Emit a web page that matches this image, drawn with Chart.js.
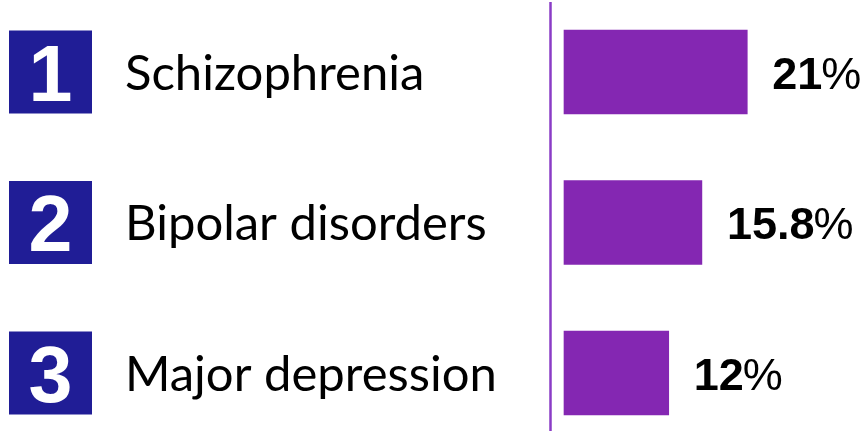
<!DOCTYPE html>
<html>
<head>
<meta charset="utf-8">
<script src="https://cdn.jsdelivr.net/npm/chart.js@4"></script>
<style>
  html, body { margin: 0; padding: 0; background: #fff; }
  #wrap { width: 860px; height: 431px; }
</style>
</head>
<body>
<div id="wrap"><canvas id="rank-chart"></canvas></div>
<script>
const ranks = ['1', '2', '3'];
const categories = ['Schizophrenia', 'Bipolar disorders', 'Major depression'];
const values = [21, 15.8, 12];

const BAR_COLOR = '#8427b2';
const BOX_COLOR = '#201d96';

// draws the rank boxes, labels, divider and value labels around the bars
const sidePlugin = {
  id: 'side',
  afterDatasetsDraw(chart) {
    const ctx = chart.ctx;
    const yScale = chart.scales.y;
    const meta = chart.getDatasetMeta(0);

    ctx.save();
    // divider line
    ctx.strokeStyle = '#8a3cc6';
    ctx.lineWidth = 2.5;
    ctx.beginPath();
    ctx.moveTo(550.5, 2);
    ctx.lineTo(550.5, 431);
    ctx.stroke();

    categories.forEach((cat, i) => {
      const cy = yScale.getPixelForValue(i);

      // rank box
      ctx.fillStyle = BOX_COLOR;
      ctx.fillRect(9, cy - 41.5, 83, 83);
      ctx.fillStyle = '#fff';
      ctx.font = 'bold 79px "Liberation Sans", Arial, sans-serif';
      ctx.textAlign = 'center';
      ctx.textBaseline = 'alphabetic';
      ctx.fillText(ranks[i], 50.5, cy + 28.5);

      // category label
      ctx.fillStyle = '#000';
      ctx.font = '49px Lato, sans-serif';
      ctx.textAlign = 'left';
      ctx.fillText(cat, 125, cy + 17.5);

      // value label
      const bar = meta.data[i];
      const x = bar.x + 25;
      ctx.font = 'bold 45px "Liberation Sans", Arial, sans-serif';
      const num = String(values[i]);
      ctx.fillText(num, x, cy + 16.5);
      const w = ctx.measureText(num).width;
      ctx.font = '45px "Liberation Sans", Arial, sans-serif';
      ctx.fillText('%', x + w - 1, cy + 16.5);
    });
    ctx.restore();
  }
};

new Chart(document.getElementById('rank-chart'), {
  type: 'bar',
  data: {
    labels: categories,
    datasets: [{
      data: values,
      backgroundColor: BAR_COLOR,
      borderWidth: 0,
      barThickness: 84,
      clip: false
    }]
  },
  options: {
    indexAxis: 'y',
    responsive: true,
    maintainAspectRatio: false,
    animation: false,
    layout: { padding: { left: 564, right: 8, top: 72, bottom: 58 } },
    plugins: {
      legend: { display: false },
      tooltip: { enabled: false }
    },
    scales: {
      x: { display: false, min: 0, max: 33 },
      y: { display: false, offset: false }
    }
  },
  plugins: [sidePlugin]
});
</script>
</body>
</html>
